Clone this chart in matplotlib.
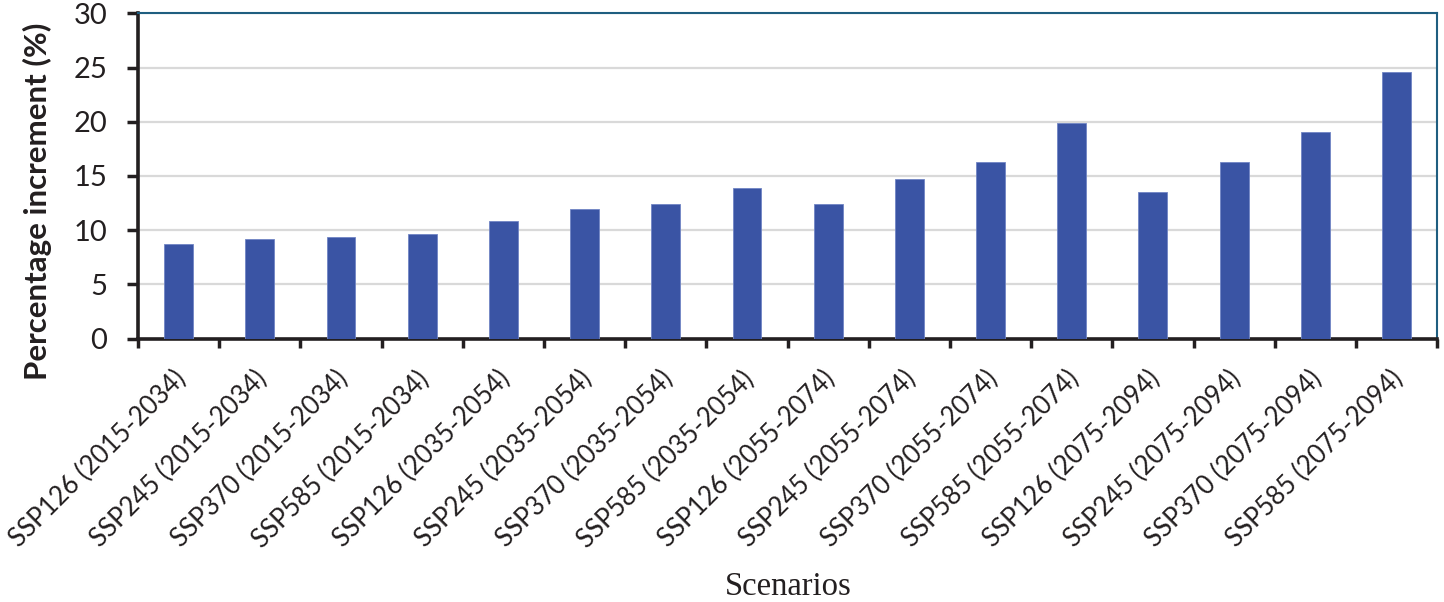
import matplotlib
matplotlib.use("Agg")
import matplotlib.pyplot as plt
import matplotlib.transforms as mtransforms
import numpy as np

categories = [
    "SSP126 (2015-2034)", "SSP245 (2015-2034)", "SSP370 (2015-2034)", "SSP585 (2015-2034)",
    "SSP126 (2035-2054)", "SSP245 (2035-2054)", "SSP370 (2035-2054)", "SSP585 (2035-2054)",
    "SSP126 (2055-2074)", "SSP245 (2055-2074)", "SSP370 (2055-2074)", "SSP585 (2055-2074)",
    "SSP126 (2075-2094)", "SSP245 (2075-2094)", "SSP370 (2075-2094)", "SSP585 (2075-2094)",
]
values = [8.75, 9.19, 9.34, 9.65, 10.88, 11.96, 12.42, 13.87,
          12.39, 14.73, 16.27, 19.87, 13.53, 16.33, 19.1, 24.6]
yticks = [0, 5, 10, 15, 20, 25, 30]

fig = plt.figure(figsize=(14.44, 6.02), dpi=100)
ax = fig.add_axes([0.0956, 0.4377, 0.8996, 0.5399])

x = np.arange(len(categories))
ax.bar(x, values, width=0.355, color="#3A54A4", edgecolor="#7085C4", linewidth=0.6, zorder=3)

ax.set_xlim(-0.5, len(categories) - 0.5)
ax.set_ylim(0, 30)
ax.set_yticks(yticks)
ax.yaxis.grid(True, color="#D9D9D9", linewidth=1.6, zorder=0)
ax.set_axisbelow(True)

ax.set_xticks(x)
ax.set_xticklabels(categories, rotation=45, ha="right", rotation_mode="anchor",
                   fontsize=18.5, family="Lato", color="#231F20")
ax.tick_params(axis="x", which="major", length=0, pad=20)
offset = mtransforms.ScaledTranslation(-6 / 100, 0, fig.dpi_scale_trans)
for lab in ax.get_xticklabels():
    lab.set_transform(lab.get_transform() + offset)
ax.set_xticks(np.arange(-0.5, len(categories), 1.0), minor=True)
ax.tick_params(axis="x", which="minor", length=6.5, width=2.5, direction="out", color="#231F20")
ax.tick_params(axis="y", length=8, width=2.5, direction="out", color="#231F20",
               labelsize=21, pad=14, labelcolor="#231F20")
for lab in ax.get_yticklabels():
    lab.set_family("Lato")

for s in ["left", "bottom"]:
    ax.spines[s].set_color("#231F20")
    ax.spines[s].set_linewidth(2.6)
for s in ["top", "right"]:
    ax.spines[s].set_color("#1F5E80")
    ax.spines[s].set_linewidth(1.5)

ax.set_ylabel("Percentage increment (%)", fontsize=22.5, fontweight="bold",
              family="Lato", color="#231F20", va="center")
ax.yaxis.set_label_coords(-0.0778, 0.423)
fig.text(0.546, 0.025, "Scenarios", fontsize=23.5, family="Liberation Serif",
         ha="center", va="center", color="#231F20")

fig.savefig("out.png", dpi=100)
